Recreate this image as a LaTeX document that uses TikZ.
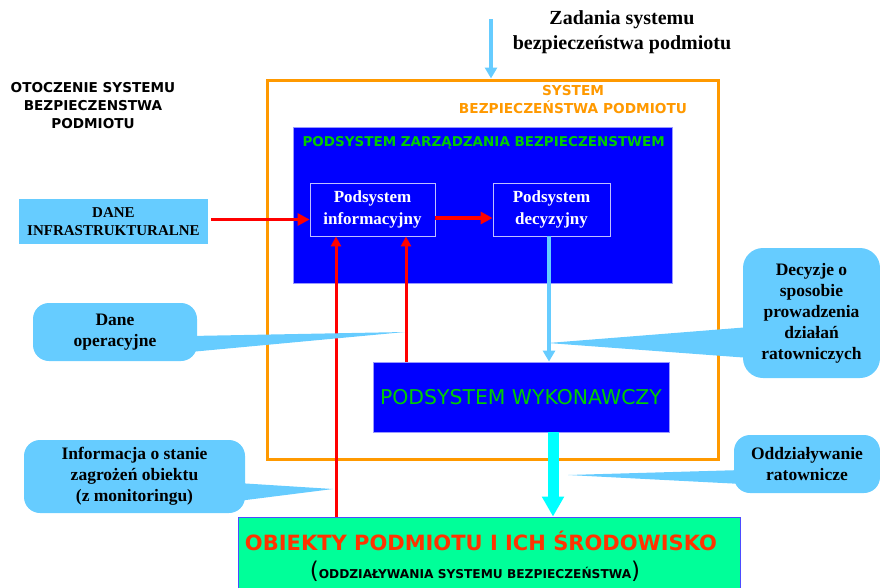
\documentclass[tikz,border=0pt]{standalone}
\usepackage{fontspec}
\setmainfont{Liberation Serif}
\newfontfamily\tah{DejaVu Sans}
\usetikzlibrary{arrows.meta,calc}
\definecolor{cal}{HTML}{66CCFF}
\definecolor{orng}{HTML}{FF9900}
\definecolor{sysblue}{HTML}{0000FF}
\definecolor{grn}{HTML}{00CC00}
\definecolor{spring}{HTML}{00FF99}
\definecolor{objred}{HTML}{FF3300}
\definecolor{edgeblue}{HTML}{9999FF}
\definecolor{aqua}{HTML}{00FFFF}
\tikzset{
  bluebox/.style={fill=sysblue, draw=edgeblue, line width=0.8pt, inner sep=0pt},
  subbox/.style={draw=white!75!blue, line width=0.8pt, text=white, align=center, inner sep=0pt,
    minimum height=53pt, font=\bfseries\fontsize{17}{22}\selectfont},
  callout/.style={fill=cal, rounded corners=16pt, align=center, inner sep=0pt,
    font=\bfseries\fontsize{17.5}{21}\selectfont},
  redarrow/.style={draw=red, line width=3.2pt, -{Triangle[length=12pt,width=12pt]}},
  redriser/.style={draw=red, line width=3pt, -{Triangle[length=10pt,width=10pt]}},
  bluearrow/.style={draw=cal, line width=3.5pt, -{Triangle[length=11pt,width=12pt]}},
  fatarrow/.style={draw=aqua, line width=11pt, -{Triangle[length=20pt,width=21pt]}},
}
\begin{document}
\begin{tikzpicture}[x=1pt,y=-1pt]
\useasboundingbox (0,0) rectangle (880,587);

% outer frame of the safety system
\node[draw=orng, line width=3pt, minimum width=451pt, minimum height=379pt, inner sep=0pt]
  (frame) at (492.5,269.5) {};
\node[text=orng, align=center, font=\tah\bfseries\fontsize{13.7}{18}\selectfont]
  (frametitle) at (573,100) {SYSTEM\\BEZPIECZEŃSTWA PODMIOTU};

% environment label
\node[align=center, font=\tah\bfseries\fontsize{13.6}{18}\selectfont]
  (env) at (93,106) {OTOCZENIE SYSTEMU\\BEZPIECZENSTWA\\PODMIOTU};

% tasks entering from above
\node[align=center, font=\bfseries\fontsize{20}{25}\selectfont]
  (tasks) at (622,32) {Zadania systemu\\bezpieczeństwa podmiotu};
\coordinate (taskin) at (491,19);
\draw[bluearrow] (taskin) -- (taskin |- frame.north);

% management subsystem
\node[bluebox, minimum width=379pt, minimum height=156pt] (mgmt) at (482.5,205) {};
\node[anchor=west, text=grn, font=\tah\bfseries\fontsize{13.5}{15}\selectfont]
  (mgmttitle) at (299,143) {PODSYSTEM ZARZĄDZANIA BEZPIECZENSTWEM};
\node[subbox, minimum width=125pt] (inf) at (372.5,209.5) {Podsystem\\informacyjny};
\node[subbox, minimum width=117pt] (dec) at (551.5,209.5) {Podsystem\\decyzyjny};

% executive subsystem
\node[bluebox, minimum width=296pt, minimum height=70pt, text=grn,
  font=\tah\fontsize{20.4}{24}\selectfont] (exec) at (521,397) {PODSYSTEM WYKONAWCZY};

% protected objects
\node[fill=spring, draw=sysblue!70, line width=0.8pt, minimum width=502pt, minimum height=74pt,
  inner sep=0pt] (obj) at (489,554) {};
\node[text=objred, font=\tah\bfseries\fontsize{21}{25}\selectfont] (objtitle) at (481,541)
  {OBIEKTY PODMIOTU I ICH ŚRODOWISKO};
\node[font=\tah\bfseries\fontsize{12.2}{14}\selectfont] (objsub) at (475,571)
  {{\fontsize{23}{23}\selectfont\mdseries(}ODDZIAŁYWANIA SYSTEMU BEZPIECZEŃSTWA{\fontsize{23}{23}\selectfont\mdseries)}};

% infrastructure data
\node[fill=cal, minimum width=189pt, minimum height=45pt, inner sep=0pt, align=center,
  font=\bfseries\fontsize{15}{18}\selectfont] (infra) at (113.5,221.5) {DANE\\INFRASTRUKTURALNE};

% flows
\draw[redarrow] ($(infra.east)+(3,-2)$) -- (inf.west |- 0,219.5);
\draw[redarrow] (inf.east |- 0,218) -- (dec.west |- 0,218);
\coordinate (mon) at (336,0);
\coordinate (oper) at (406,0);
\coordinate (dcol) at (549,0);
\coordinate (fcol) at (553,0);
\draw[redriser] (obj.north -| mon) -- (inf.south -| mon);
\draw[redriser] (exec.north -| oper) -- (inf.south -| oper);
\draw[bluearrow] (dec.south -| dcol) -- (exec.north -| dcol);
\draw[fatarrow] (exec.south -| fcol) -- (obj.north -| fcol);

% callouts
\coordinate (tipop) at (405,332);
\coordinate (tipinfo) at (333,489);
\coordinate (tipdec) at (548,343);
\coordinate (tipimp) at (568,475);
\fill[cal] (190,336) -- (tipop) -- (190,352) -- cycle;
\fill[cal] (238,483) -- (tipinfo) -- (238,501) -- cycle;
\fill[cal] (750,327) -- (tipdec) -- (750,358) -- cycle;
\fill[cal] (742,470) -- (tipimp) -- (742,484) -- cycle;
\node[callout, minimum width=164pt, minimum height=58pt] (op) at (115,332) {Dane\\operacyjne};
\node[callout, minimum width=221pt, minimum height=73pt] (info) at (134.5,476.5)
  {Informacja o stanie\\zagrożeń obiektu\\(z monitoringu)};
\node[callout, rounded corners=20pt, minimum width=137pt, minimum height=130pt] (decnote) at (811.5,313)
  {Decyzje o\\sposobie\\prowadzenia\\działań\\ratowniczych};
\node[callout, minimum width=146pt, minimum height=58pt] (impact) at (807,464)
  {Oddziaływanie\\ratownicze};
\end{tikzpicture}
\end{document}
